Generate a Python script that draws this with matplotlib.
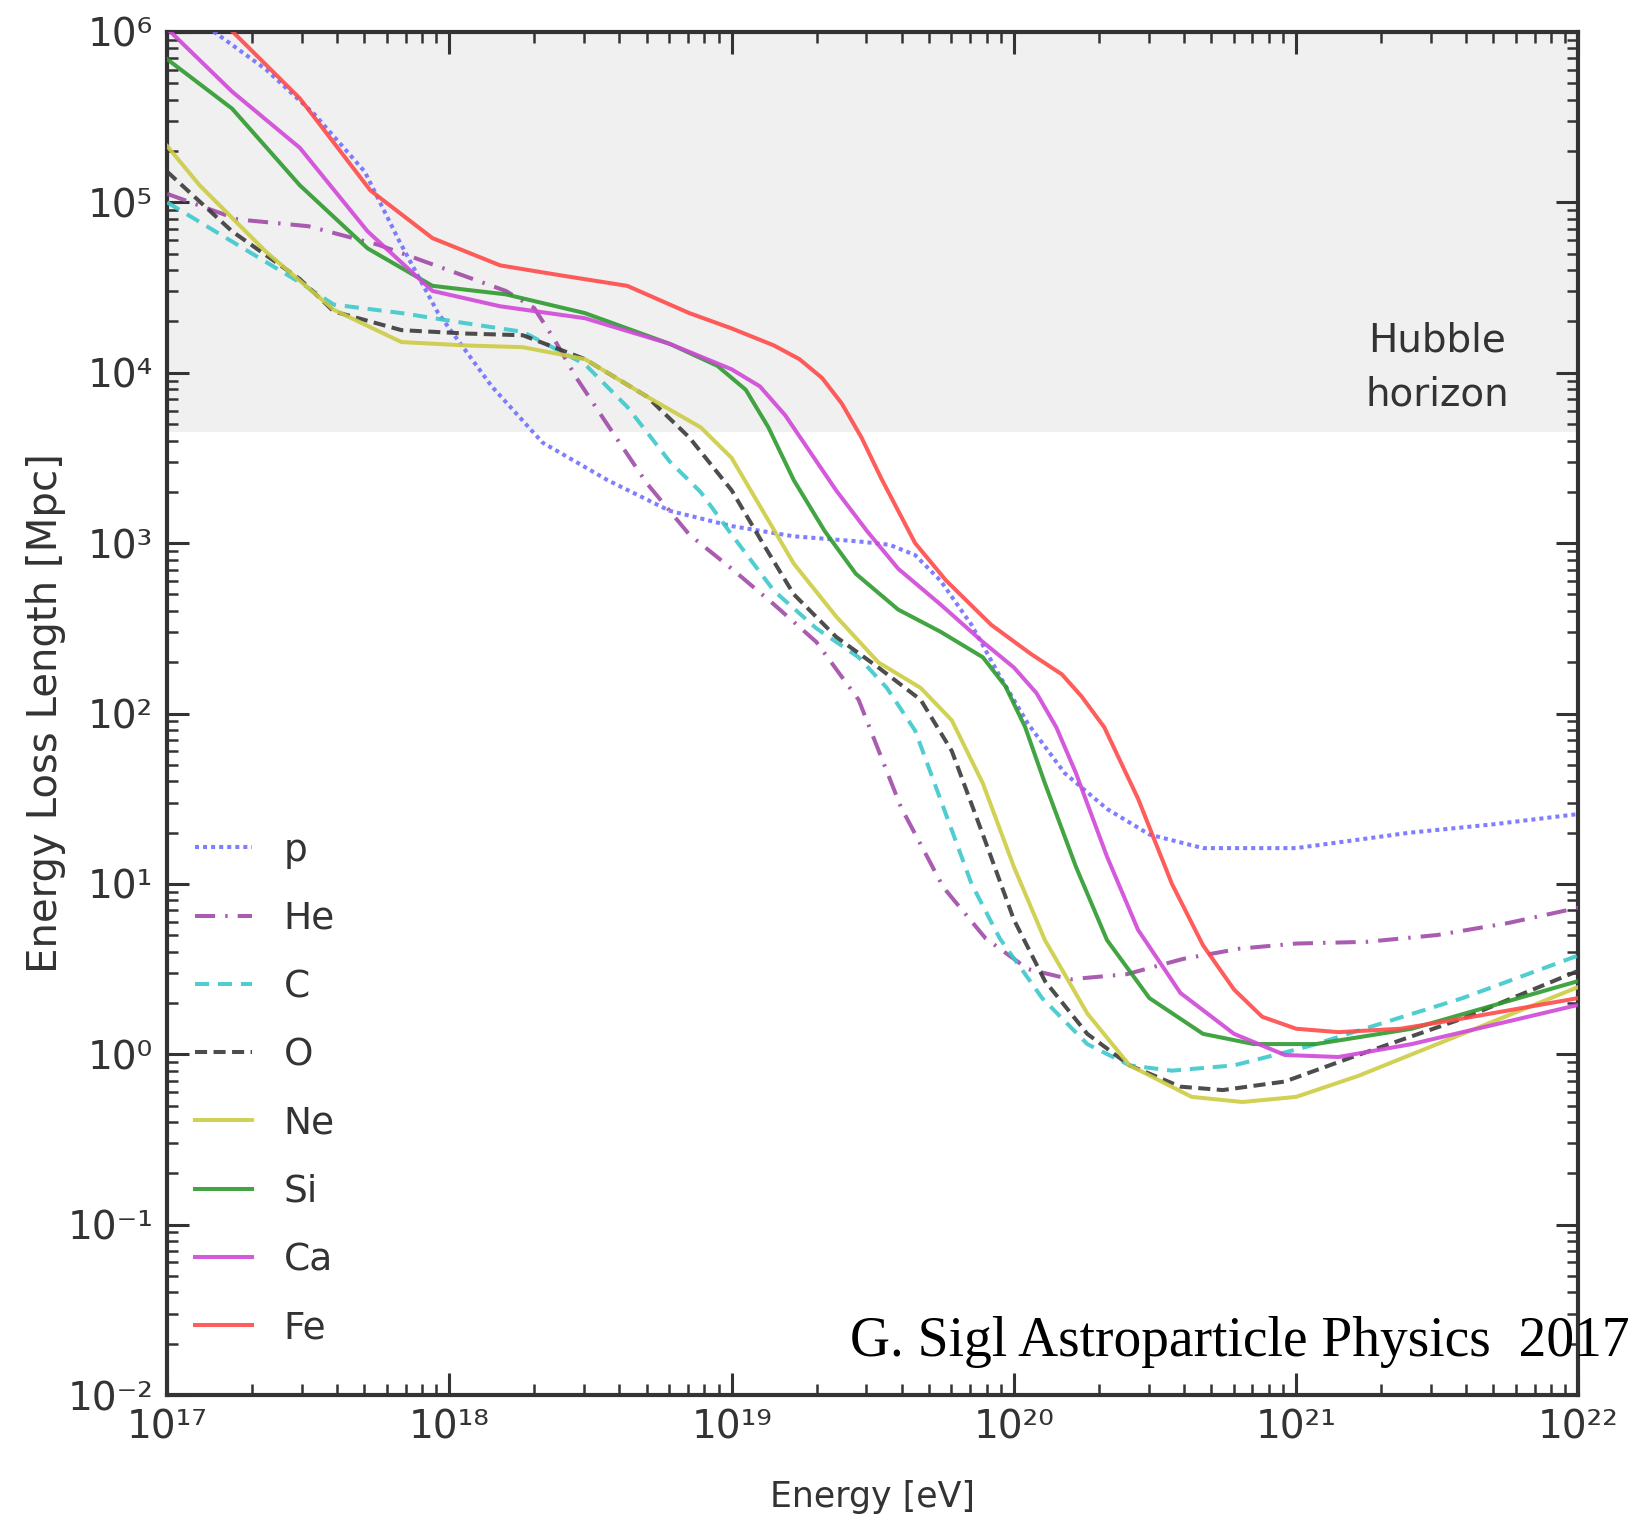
import numpy as np
import matplotlib.pyplot as plt
from matplotlib.ticker import LogLocator, NullFormatter

# log10(E / eV) and log10(L / Mpc)
p_logE = [17.0, 17.167, 17.35, 17.52, 17.70, 17.82, 17.96, 18.15, 18.33, 18.56, 18.78, 19.0, 19.22,
          19.45, 19.56, 19.65, 19.74, 19.85, 19.95, 20.05, 20.18, 20.33, 20.48, 20.67, 21.0, 21.4, 21.7, 22.0]
p_logL = [6.25, 6.0, 5.78, 5.52, 5.18, 4.78, 4.35, 3.92, 3.59, 3.37, 3.19, 3.10, 3.04,
          3.01, 2.99, 2.93, 2.78, 2.52, 2.22, 1.94, 1.65, 1.44, 1.29, 1.21, 1.21, 1.30, 1.35, 1.41]

he_logE = [17.0, 17.25, 17.5, 17.75, 18.0, 18.2, 18.3, 18.37, 18.45, 18.55, 18.7, 18.85, 19.0, 19.15,
           19.3, 19.45, 19.6, 19.75, 19.9, 20.05, 20.2, 20.4, 20.6, 20.8, 21.0, 21.25, 21.5, 21.75, 22.0]
he_logL = [5.05, 4.90, 4.86, 4.75, 4.60, 4.48, 4.38, 4.20, 3.97, 3.72, 3.35, 3.05, 2.85, 2.64,
           2.42, 2.08, 1.45, 0.98, 0.68, 0.50, 0.44, 0.47, 0.56, 0.62, 0.65, 0.66, 0.70, 0.77, 0.86]

c_logE = [17.0, 17.23, 17.47, 17.59, 17.83, 18.06, 18.26, 18.48, 18.63, 18.78, 18.89, 19.0, 19.15,
          19.3, 19.45, 19.55, 19.65, 19.75, 19.85, 19.95, 20.1, 20.26, 20.41, 20.56, 20.78, 21.04,
          21.3, 21.59, 22.0]
c_logL = [5.0, 4.77, 4.53, 4.40, 4.35, 4.29, 4.24, 4.05, 3.80, 3.48, 3.30, 3.05, 2.72,
          2.50, 2.33, 2.15, 1.90, 1.45, 1.0, 0.68, 0.33, 0.06, -0.065, -0.096, -0.065, 0.045,
          0.18, 0.33, 0.58]

o_logE = [17.0, 17.23, 17.47, 17.59, 17.83, 18.06, 18.26, 18.48, 18.70, 18.85, 19.0, 19.11, 19.22,
          19.37, 19.52, 19.67, 19.78, 19.89, 20.0, 20.11, 20.26, 20.41, 20.59, 20.74, 20.96, 21.22,
          21.59, 22.0]
o_logL = [5.18, 4.83, 4.55, 4.36, 4.25, 4.23, 4.22, 4.08, 3.86, 3.62, 3.31, 3.0, 2.70,
          2.45, 2.27, 2.08, 1.78, 1.29, 0.79, 0.43, 0.12, -0.065, -0.19, -0.21, -0.16, -0.004,
          0.21, 0.49]

ne_logE = [17.0, 17.115, 17.35, 17.59, 17.83, 18.06, 18.26, 18.48, 18.70, 18.89, 19.0, 19.11, 19.22,
           19.37, 19.52, 19.67, 19.78, 19.89, 20.0, 20.11, 20.26, 20.41, 20.63, 20.81, 21.0, 21.22,
           21.59, 22.0]
ne_logL = [5.33, 5.10, 4.71, 4.37, 4.18, 4.16, 4.15, 4.08, 3.86, 3.68, 3.50, 3.19, 2.88,
           2.57, 2.30, 2.15, 1.96, 1.59, 1.10, 0.67, 0.24, -0.065, -0.25, -0.28, -0.25, -0.127,
           0.12, 0.395]

si_logE = [17.0, 17.23, 17.47, 17.71, 17.94, 18.2, 18.48, 18.78, 18.95, 19.05, 19.13, 19.22, 19.33,
           19.44, 19.59, 19.74, 19.89, 19.97, 20.04, 20.11, 20.22, 20.33, 20.48, 20.67, 20.85, 21.07,
           21.41, 22.0]
si_logL = [5.84, 5.55, 5.10, 4.73, 4.51, 4.46, 4.35, 4.17, 4.04, 3.90, 3.68, 3.37, 3.07,
           2.82, 2.61, 2.48, 2.33, 2.16, 1.92, 1.59, 1.10, 0.67, 0.33, 0.12, 0.06, 0.06,
           0.15, 0.43]

ca_logE = [17.0, 17.23, 17.47, 17.71, 17.94, 18.18, 18.48, 18.78, 19.0, 19.1, 19.19, 19.28, 19.37,
           19.48, 19.59, 19.74, 19.89, 20.0, 20.08, 20.15, 20.22, 20.33, 20.44, 20.59, 20.78, 20.96,
           21.15, 21.41, 22.0]
ca_logL = [6.02, 5.65, 5.32, 4.83, 4.48, 4.39, 4.32, 4.17, 4.02, 3.92, 3.75, 3.53, 3.31,
           3.07, 2.85, 2.64, 2.42, 2.27, 2.12, 1.92, 1.65, 1.16, 0.73, 0.36, 0.12, -0.004,
           -0.016, 0.06, 0.29]

fe_logE = [17.0, 17.233, 17.47, 17.72, 17.94, 18.18, 18.4, 18.63, 18.85, 19.0, 19.15, 19.24, 19.32,
           19.39, 19.46, 19.53, 19.65, 19.76, 19.92, 20.06, 20.17, 20.24, 20.32, 20.44, 20.56, 20.67,
           20.78, 20.88, 21.0, 21.15, 21.37, 21.59, 22.0]
fe_logL = [6.39, 6.0, 5.61, 5.07, 4.79, 4.63, 4.57, 4.51, 4.35, 4.26, 4.16, 4.08, 3.97,
           3.82, 3.62, 3.38, 3.0, 2.78, 2.52, 2.35, 2.23, 2.10, 1.92, 1.50, 1.0, 0.64,
           0.38, 0.22, 0.15, 0.13, 0.15, 0.21, 0.33]

names = ['p', 'He', 'C', 'O', 'Ne', 'Si', 'Ca', 'Fe']
series = [(p_logE, p_logL), (he_logE, he_logL), (c_logE, c_logL), (o_logE, o_logL),
          (ne_logE, ne_logL), (si_logE, si_logL), (ca_logE, ca_logL), (fe_logE, fe_logL)]
colors = ['#7070ff', '#a04aa8', '#3cc8cc', '#3a3a3a', '#cccc44', '#2e9a2e', '#d048d8', '#ff4a4a']
styles = [(0, (1, 1)), (0, (5, 2.5, 0.6, 2.5)), (0, (3.5, 2.2)), (0, (3, 1.6)),
          '-', '-', '-', '-']

hubble = 4.5e3
x_exp = [17, 18, 19, 20, 21, 22]
y_exp = [-2, -1, 0, 1, 2, 3, 4, 5, 6]

sup = str.maketrans('-0123456789', '⁻⁰¹²³⁴⁵⁶⁷⁸⁹')

plt.rcParams['font.family'] = ['DejaVu Sans']

fig = plt.figure(figsize=(16.39, 15.22), dpi=100)
ax = fig.add_axes([0.102, 0.0834, 0.861, 0.8956])

ax.set_xscale('log')
ax.set_yscale('log')
ax.set_xlim(1e17, 1e22)
ax.set_ylim(1e-2, 1e6)

ax.axhspan(hubble, 1e6, color='#f0f0f0', zorder=0, lw=0)

for (le, ll), name, c, ls in zip(series, names, colors, styles):
    ax.plot(10 ** np.array(le), 10 ** np.array(ll), color=c, ls=ls, lw=2.9,
            alpha=0.9, label=name, zorder=3, solid_joinstyle='round')

ax.set_xticks([10.0 ** e for e in x_exp])
ax.set_xticklabels(['10' + str(e).translate(sup) for e in x_exp])
ax.set_yticks([10.0 ** e for e in y_exp])
ax.set_yticklabels(['10' + str(e).translate(sup) for e in y_exp])
ax.xaxis.set_minor_locator(LogLocator(base=10, subs=np.arange(2, 10), numticks=20))
ax.yaxis.set_minor_locator(LogLocator(base=10, subs=np.arange(2, 10), numticks=20))
ax.xaxis.set_minor_formatter(NullFormatter())
ax.yaxis.set_minor_formatter(NullFormatter())

ax.tick_params(which='both', direction='in', top=True, right=True, colors='#333333',
               labelcolor='#333333', labelsize=28)
ax.tick_params(which='major', length=16, width=2.2, pad=10)
ax.tick_params(which='minor', length=8, width=1.8)
for s in ax.spines.values():
    s.set_linewidth(3)
    s.set_color('#333333')

ax.set_xlabel('Energy [eV]', fontsize=25, color='#333333')
ax.xaxis.set_label_coords(0.5, -0.062)
ax.set_ylabel('Energy Loss Length [Mpc]', fontsize=29, color='#333333')
ax.yaxis.set_label_coords(-0.072, 0.5)

ax.text(0.90, 0.754, 'Hubble\nhorizon', transform=ax.transAxes, ha='center', va='center',
        fontsize=28, color='#333333', linespacing=1.55)

leg = ax.legend(loc='lower left', bbox_to_anchor=(-0.004, 0.011), frameon=False, fontsize=27,
                handlelength=1.5, handletextpad=0.85, labelspacing=0.86, labelcolor='#333333')

fig.text(0.994, 0.118, 'G. Sigl Astroparticle Physics  2017', ha='right', va='center',
         fontsize=40, family='Liberation Serif', color='black')

fig.savefig('out.png', dpi=100)
